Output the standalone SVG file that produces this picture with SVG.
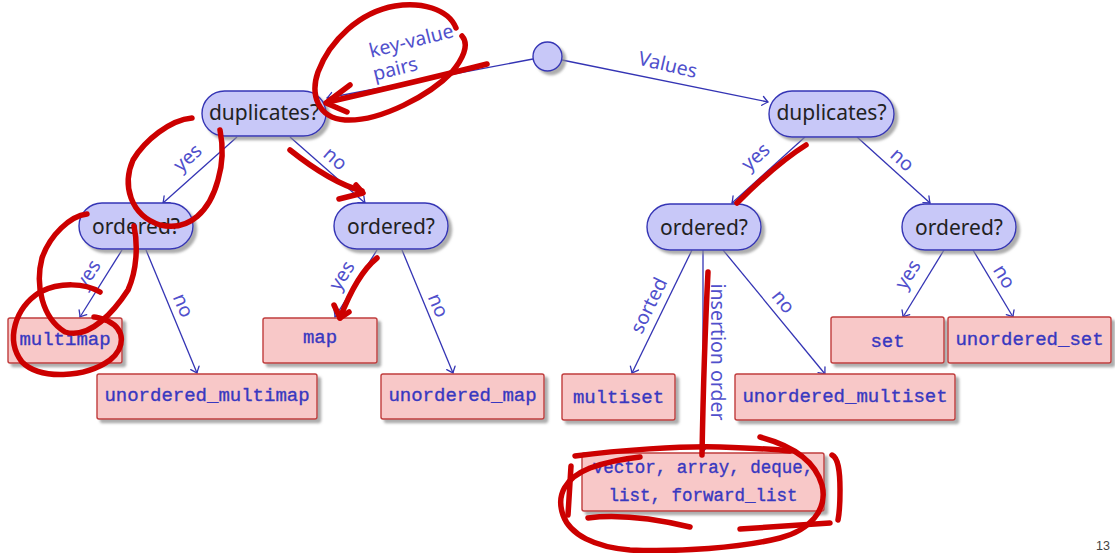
<svg xmlns="http://www.w3.org/2000/svg" width="1115" height="553" viewBox="0 0 1115 553">
  <defs>
    <filter id="shadow" x="-10%" y="-10%" width="130%" height="140%">
      <feDropShadow dx="3.5" dy="3.5" stdDeviation="0.9" flood-color="#8a8a8a" flood-opacity="0.7"/>
    </filter>
    <marker id="to" viewBox="-7 -6 9 12" refX="0" refY="0" markerWidth="9" markerHeight="12" markerUnits="userSpaceOnUse" orient="auto">
      <path d="M-5.5,-4.5 Q-1.8,-1.2 0,0 Q-1.8,1.2 -5.5,4.5" fill="none" stroke="#3434b4" stroke-width="1.3" stroke-linecap="round"/>
    </marker>
    <style>
      .pill { fill: #c8c8f8; stroke: #3535b5; stroke-width: 1.4; filter: url(#shadow); }
      .box { fill: #f8c8c8; stroke: #c03c3c; stroke-width: 1.4; filter: url(#shadow); }
      .q { font-family: "Noto Sans", "Open Sans", sans-serif; font-size: 21px; fill: #222; text-anchor: middle; }
      .tt { font-family: "Liberation Mono", "DejaVu Sans Mono", monospace; font-size: 19px; fill: #3838c0; stroke: #3838c0; stroke-width: 0.35; text-anchor: middle; }
      .lbl { font-family: "Noto Sans", "Open Sans", sans-serif; font-size: 19.5px; fill: #5050cc; text-anchor: middle; dominant-baseline: central; }
      .edge { fill: none; stroke: #3434b4; stroke-width: 1.3; marker-end: url(#to); }
      .ink { fill: none; stroke: #cc0000; stroke-width: 5.5; stroke-linecap: round; stroke-linejoin: round; }
    </style>
  </defs>

  <rect width="1115" height="553" fill="#ffffff"/>

  <!-- connectors -->
  <g id="connectors">
    <path class="edge" d="M533,59 L327,98"/>
    <path class="edge" d="M562,60 L768,102"/>
    <path class="edge" d="M237,137 L163,203"/>
    <path class="edge" d="M290,137 L365,203"/>
    <path class="edge" d="M122,250 L80,317"/>
    <path class="edge" d="M146,250 L197,373"/>
    <path class="edge" d="M377,250 L335,317"/>
    <path class="edge" d="M402,250 L453,373"/>
    <path class="edge" d="M805,137 L732,203"/>
    <path class="edge" d="M857,137 L930,203"/>
    <path class="edge" d="M692,250 L632,373"/>
    <path class="edge" d="M703,250 L703,452"/>
    <path class="edge" d="M723,250 L825,374"/>
    <path class="edge" d="M944,250 L903,317"/>
    <path class="edge" d="M973,250 L1013,317"/>
  </g>

  <!-- edge labels -->
  <g id="labels">
    <text class="lbl" transform="translate(411,40) rotate(-14)">key-value</text>
    <text class="lbl" transform="translate(395,68) rotate(-14)">pairs</text>
    <text class="lbl" transform="translate(668,64) rotate(13)">Values</text>
    <text class="lbl" transform="translate(187,157) rotate(-42)">yes</text>
    <text class="lbl" transform="translate(336,158) rotate(41)">no</text>
    <text class="lbl" transform="translate(87,274) rotate(-58)">yes</text>
    <text class="lbl" transform="translate(184,305) rotate(67)">no</text>
    <text class="lbl" transform="translate(341,275) rotate(-58)">yes</text>
    <text class="lbl" transform="translate(439,305) rotate(67)">no</text>
    <text class="lbl" transform="translate(755,156) rotate(-42)">yes</text>
    <text class="lbl" transform="translate(903,159) rotate(42)">no</text>
    <text class="lbl" transform="translate(648,305) rotate(-64)">sorted</text>
    <text class="lbl" transform="translate(718,352) rotate(90)">insertion order</text>
    <text class="lbl" transform="translate(784,301) rotate(51)">no</text>
    <text class="lbl" transform="translate(907,274) rotate(-58)">yes</text>
    <text class="lbl" transform="translate(1005,276) rotate(59)">no</text>
  </g>

  <!-- decision nodes -->
  <g id="root"><circle class="pill" cx="547.5" cy="56.5" r="14.5"/></g>
  <g id="dup-pairs"><rect class="pill" x="202" y="91" width="124" height="45" rx="22.5"/><text class="q" x="264" y="120">duplicates?</text></g>
  <g id="dup-values"><rect class="pill" x="769" y="91" width="125" height="46" rx="23"/><text class="q" x="831.5" y="120">duplicates?</text></g>
  <g id="ord-multi-pairs"><rect class="pill" x="79" y="203" width="114" height="46" rx="23"/><text class="q" x="136" y="234">ordered?</text></g>
  <g id="ord-pairs"><rect class="pill" x="334" y="203" width="114" height="46" rx="23"/><text class="q" x="391" y="234">ordered?</text></g>
  <g id="ord-multi-values"><rect class="pill" x="647" y="204" width="114" height="46" rx="23"/><text class="q" x="704" y="235">ordered?</text></g>
  <g id="ord-values"><rect class="pill" x="902" y="204" width="114" height="46" rx="23"/><text class="q" x="959" y="235">ordered?</text></g>

  <!-- container leaves -->
  <g id="multimap"><rect class="box" x="8" y="318" width="114" height="45" rx="2"/><text class="tt" x="65" y="345">multimap</text></g>
  <g id="map"><rect class="box" x="263" y="318" width="114" height="45" rx="2"/><text class="tt" x="320" y="343">map</text></g>
  <g id="unordered_multimap"><rect class="box" x="97" y="374" width="220" height="45" rx="2"/><text class="tt" x="207" y="401">unordered_multimap</text></g>
  <g id="unordered_map"><rect class="box" x="381" y="374" width="163" height="45" rx="2"/><text class="tt" x="462.5" y="401">unordered_map</text></g>
  <g id="multiset"><rect class="box" x="562" y="374" width="113" height="46" rx="2"/><text class="tt" x="618.5" y="403">multiset</text></g>
  <g id="unordered_multiset"><rect class="box" x="735" y="374" width="220" height="46" rx="2"/><text class="tt" x="845" y="402">unordered_multiset</text></g>
  <g id="set"><rect class="box" x="831" y="317" width="113" height="46" rx="2"/><text class="tt" x="887.5" y="347">set</text></g>
  <g id="unordered_set"><rect class="box" x="948" y="317" width="163" height="46" rx="2"/><text class="tt" x="1029.5" y="345">unordered_set</text></g>
  <g id="sequences"><rect class="box" x="582" y="453" width="242" height="58" rx="2"/>
    <text class="tt" x="703" y="473" style="font-size:17.5px">vector, array, deque,</text>
    <text class="tt" x="703" y="500.5" style="font-size:17.5px">list, forward_list</text>
  </g>

  <!-- hand-drawn red pen marks -->
  <g id="pen">
    <path class="ink" d="M456,28 C448,8 420,2 395,6 C360,12 330,40 318,72 C310,95 318,118 345,120 C380,122 430,95 452,72 C462,60 470,45 462,36"/>
    <path class="ink" d="M487,64 C440,76 380,90 328,102"/>
    <path class="ink" d="M350,85 L326,103 L347,112"/>
    <path class="ink" d="M192,118 C170,120 145,140 133,160 C122,185 130,215 160,225 C190,232 210,210 218,180 C224,160 222,140 220,130"/>
    <path class="ink" d="M87,214 C70,216 50,235 42,258 C35,285 42,318 65,332 C90,340 115,310 128,290 C137,270 138,245 134,226"/>
    <path class="ink" d="M100,292 C85,283 60,282 40,292 C15,308 5,340 22,362 C40,380 85,378 110,360 C125,348 126,330 108,321 C100,318 96,317 94,317"/>
    <path class="ink" d="M290,150 C315,170 340,185 362,191"/>
    <path class="ink" d="M356,185 L363,193 L339,199"/>
    <path class="ink" d="M377,258 C362,270 350,292 340,318"/>
    <path class="ink" d="M334,305 L340,318 L349,312"/>
    <path class="ink" d="M806,145 C790,155 770,170 737,203"/>
    <path class="ink" d="M708,272 C705,330 703,400 702,455"/>
    <path class="ink" d="M575,456 C620,450 680,446 720,447 C750,448 775,449 790,451"/>
    <path class="ink" d="M760,437 C790,445 815,460 822,485 C828,510 810,530 780,538 C740,548 680,552 630,550 C595,547 570,535 563,515 C556,495 565,478 590,468 C610,461 630,458 640,457"/>
    <path class="ink" d="M571,466 L568,515"/>
    <path class="ink" d="M588,518 C620,514 660,520 690,527"/>
    <path class="ink" d="M740,529 L830,523"/>
    <path class="ink" d="M832,455 C838,458 840,470 840,490 C840,505 839,515 838,520"/>
  </g>

  <text x="1096" y="550" font-family="Liberation Sans, sans-serif" font-size="12.5" fill="#444">13</text>
</svg>
